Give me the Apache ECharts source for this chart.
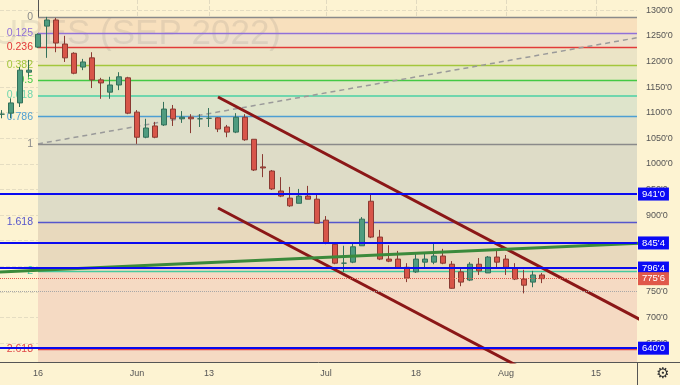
<!DOCTYPE html>
<html><head><meta charset="utf-8">
<script src="https://cdn.jsdelivr.net/npm/echarts@6/dist/echarts.min.js"></script>
<style>html,body{margin:0;padding:0;background:#fdf3d2;}#c{width:680px;height:385px;}</style>
</head><body><div id="c"></div>
<script>
// ---- data ----
const tickIndex = [0, 11, 19, 32, 42, 52, 62];
const tickLabels = ['16', 'Jun', '13', 'Jul', '18', 'Aug', '15'];
const priceTicks = [650, 700, 750, 800, 850, 900, 950, 1000, 1050, 1100, 1150, 1200, 1250, 1300];
const firstIndex = -4; // May 10, 2022 (index 0 = May 16)
const dates = ['05-10','05-11','05-12','05-13','05-16','05-17','05-18','05-19','05-20','05-23','05-24','05-25','05-26','05-27','05-31',
  '06-01','06-02','06-03','06-06','06-07','06-08','06-09','06-10','06-13','06-14','06-15','06-16','06-17','06-21','06-22','06-23','06-24',
  '06-27','06-28','06-29','06-30','07-01','07-05','07-06','07-07','07-08','07-11','07-12','07-13','07-14','07-15','07-18','07-19','07-20',
  '07-21','07-22','07-25','07-26','07-27','07-28','07-29','08-01','08-02','08-03','08-04','08-05'];
const opens  = [1097,1099,1119,1179,1228,1269,1281,1234,1216,1189,1207,1164,1140,1154,1168,1101,1052,1074,1076,1107,1088,1091,1088,1089,1090,1072,1062,1091,1048,994,986,947,933,923,937,931,890,843,806,808,840,927,857,814,814,798,789,808,808,820,804,789,773,804,787,818,814,797,775,769,783];
const closes = [1097,1119,1183,1183,1253,1281,1236,1207,1177,1199,1164,1158,1154,1170,1099,1052,1070,1052,1107,1088,1091,1088,1088,1089,1068,1062,1091,1047,988,992,951,937,918,937,931,884,845,806,806,838,892,857,814,810,797,777,814,814,820,806,757,769,804,791,818,808,798,775,763,783,775.75];
const lows   = [1089,1089,1111,1170,1226,1207,1218,1199,1175,1183,1148,1127,1127,1144,1097,1039,1050,1050,1074,1074,1080,1060,1072,1072,1062,1052,1060,1045,986,974,949,935,916,923,931,884,843,804,789,806,840,855,812,808,795,769,787,795,804,804,756,761,771,783,787,797,783,773,747,759,767];
const highs  = [1105,1128,1189,1203,1255,1287,1285,1250,1218,1205,1218,1168,1170,1179,1170,1105,1088,1082,1121,1115,1103,1097,1097,1109,1091,1076,1099,1097,1048,1019,988,974,955,951,957,941,898,845,840,845,896,941,871,841,830,806,826,824,847,834,810,797,808,816,820,832,822,806,793,791,787];

const fibLabels = ['0', '0.125', '0.236', '0.382', '0.5', '0.618', '0.786', '1', '1.618', '2', '2.618'];
const fibPrices = [1287, 1256, 1228.5, 1192.3, 1163, 1133.7, 1092.1, 1039, 885.7, 791, 637.7];
const fibExtPrice = 389.7; // 3.618 level (off chart)
const fibStartIndex = 0;

const trendDashed = [[0, 1039], [70, 1257]];
const channelUpper = [[20, 1130.5], [70, 667]];
const channelLower = [[20, 913.7], [56, 580]];
const greenLine = [[-5, 788.1], [70, 847.4]];

const keyLevels = [941, 845.5, 796.5, 640];
const keyLabels = ["941'0", "845'4", "796'4", "640'0"];
const lastPrice = 775.75;
const lastLabel = "775'6";
const grayLevel = 752;

// ---- styles ----
const fibColors = ['#8a8a8a','#9070d8','#e23a3a','#a3c63c','#44c944','#6fd6ad','#4d9fd3','#8a8a8a','#5656cc','#45c9a0','#e04848'];
const fibBandColors = ['#f8e0bd','#eee0cc','#ebe4c6','#e4e7c3','#dfe7c6','#dee4cb','#dfdfca','#dedcc7','#e8d9bd','#f5dac3','#f5dac3'];

const xMin = -38 / 9, xMax = -38 / 9 + 637 / 9;
const font = 'Liberation Sans, Arial, sans-serif';

const candleData = opens.map((o, i) => [firstIndex + i, o, closes[i], lows[i], highs[i]]);

const bandPrices = fibPrices.concat([fibExtPrice]);
const bands = [];
for (let i = 0; i < bandPrices.length - 1; i++) {
  bands.push([{ coord: [fibStartIndex, bandPrices[i]], itemStyle: { color: fibBandColors[i] } },
              { coord: [xMax, bandPrices[i + 1]] }]);
}
const fibLines = fibPrices.map((p, i) => [
  { coord: [fibStartIndex, p], lineStyle: { color: fibColors[i], width: fibLabels[i] === '0.618' ? 2 : 1.3, type: 'solid', opacity: 1 },
    label: { show: true, position: 'start', formatter: fibLabels[i], color: fibColors[i], fontSize: 10.5, fontFamily: font, distance: 5 } },
  { coord: [xMax, p] }
]);

const keyLines = keyLevels.map((p, i) => ({
  yAxis: p,
  lineStyle: { color: '#0a0af0', width: 2, type: 'solid' },
  label: { show: true, position: 'end', formatter: keyLabels[i], backgroundColor: '#0a0af5', color: '#fff',
           fontSize: 9.5, fontFamily: font, padding: [2, 4, 1, 4], distance: 1 }
}));
keyLines.push({
  yAxis: lastPrice,
  lineStyle: { color: '#e2574a', width: 1, type: 'dotted' },
  label: { show: true, position: 'end', formatter: lastLabel, backgroundColor: '#e0584a', color: '#fff',
           fontSize: 9.5, fontFamily: font, padding: [2, 4, 1, 4], distance: 1 }
});
keyLines.push({ yAxis: grayLevel, lineStyle: { color: '#a8a8a8', width: 1, type: 'dotted' }, label: { show: false } });

const chart = echarts.init(document.getElementById('c'), null, { renderer: 'canvas' });
chart.setOption({
  animation: false,
  backgroundColor: '#fdf3d2',
  grid: { left: 0, right: 43, top: 0, bottom: 23, outerBoundsMode: 'none' },
  xAxis: {
    type: 'value', min: xMin, max: xMax,
    axisLine: { show: true, lineStyle: { color: '#555', width: 1 } },
    axisTick: { show: false, customValues: tickIndex },
    axisLabel: { customValues: tickIndex, formatter: v => tickLabels[tickIndex.indexOf(v)] || '', color: '#555', fontSize: 9, fontFamily: font, margin: 7 },
    splitLine: { show: true, lineStyle: { type: 'dashed', color: 'rgba(120,120,120,0.2)' } }
  },
  yAxis: {
    type: 'value', position: 'right', min: 613, max: 1320,
    axisLine: { show: true, lineStyle: { color: '#555', width: 1 } },
    axisTick: { show: false, customValues: priceTicks },
    axisLabel: { customValues: priceTicks, formatter: v => v + "'0", color: '#555', fontSize: 9, fontFamily: font, margin: 9 },
    splitLine: { show: true, lineStyle: { type: 'dashed', color: 'rgba(120,120,120,0.18)' } }
  },
  graphic: [
    { type: 'text', z: 1.5, silent: true, x: 281, y: 34,
      style: { text: 'WHEAT FUTURES (SEP 2022)', fill: 'rgba(110,110,110,0.14)', font: '35px Liberation Sans, Arial', textAlign: 'right', textVerticalAlign: 'middle' } },
    { type: 'line', z: 10, shape: { x1: 637.5, y1: 362, x2: 637.5, y2: 385 }, style: { stroke: '#555', lineWidth: 1 } },
    { type: 'line', z: 10, shape: { x1: 637, y1: 362.5, x2: 680, y2: 362.5 }, style: { stroke: '#555', lineWidth: 1 } },
    { type: 'text', z: 10, x: 663, y: 374, style: { text: '\u2699', fill: '#333', font: '15px DejaVu Sans', textAlign: 'center', textVerticalAlign: 'middle' } }
  ],
  series: [
    { type: 'line', name: 'fib', data: [], silent: true,
      markArea: { silent: true, z: 1, data: bands },
      markLine: { silent: true, z: 1.8, symbol: ['none', 'none'], data: fibLines } },
    { type: 'line', data: trendDashed, symbol: 'none', silent: true, z: 2,
      lineStyle: { color: '#9a9a9a', width: 1.5, type: [5, 4] } },
    { type: 'candlestick', data: candleData, barWidth: 6, z: 3,
      itemStyle: { color: '#4f9c7f', color0: '#d85549', borderColor: '#33705a', borderColor0: '#8a3a32', borderWidth: 1 } },
    { type: 'line', data: channelUpper, symbol: 'none', silent: true, z: 4, lineStyle: { color: '#8b1717', width: 3 } },
    { type: 'line', data: channelLower, symbol: 'none', silent: true, z: 4, lineStyle: { color: '#8b1717', width: 3 } },
    { type: 'line', data: greenLine, symbol: 'none', silent: true, z: 4, lineStyle: { color: '#3b8a3b', width: 3 } },
    { type: 'line', data: [], silent: true,
      markLine: { silent: true, z: 6, symbol: ['none', 'none'], data: keyLines } }
  ]
});
</script></body></html>
